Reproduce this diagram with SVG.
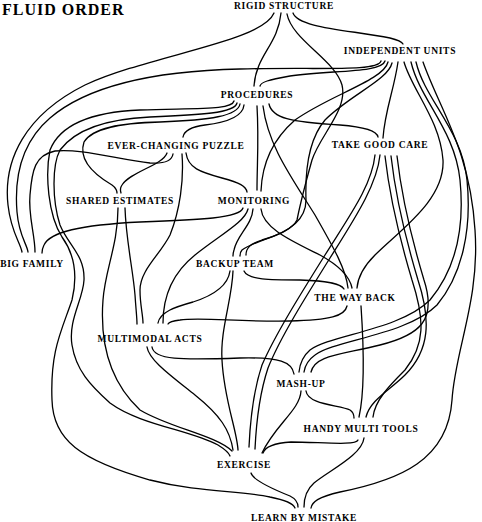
<svg xmlns="http://www.w3.org/2000/svg" width="482" height="522" viewBox="0 0 482 522">
<style>
.e path{fill:none;stroke:#000;stroke-width:1.3;stroke-linecap:round}
text{font-family:"Liberation Serif","DejaVu Serif",serif;font-weight:bold;font-size:9.5px;letter-spacing:0.7px;text-anchor:middle;fill:#000}
.title{font-size:16px;letter-spacing:1px;text-anchor:start}
</style>
<rect width="482" height="522" fill="#fff"/>
<g class="e" id="edges">
<path d="M274,13 C262,42 150,55 85,85 C25,115 3,160 8,205 C11,232 20,242 22,252"/>
<path d="M381,61 C378,72 320,67 240,69 C150,71 85,88 50,118 C22,142 14,175 17,212 C19,236 27,244 28,252"/>
<path d="M281,13 C278,45 256,55 254,86"/>
<path d="M385,61 C382,73 330,70 290,76 C268,80 261,82 260,86"/>
<path d="M293,13 C298,28 350,30 390,38 C398,40 402,42 403,44"/>
<path d="M234,101 C232,110 200,108 140,110 C90,112 60,125 50,150 C45,175 48,215 62,237 C75,255 78,275 72,300 C62,330 50,350 52,400 C53,440 80,460 150,480 C200,493 240,490 270,497 C285,500 293,503 295,508"/>
<path d="M237,103 C235,113 200,115 150,117 C105,119 75,130 60,150 C52,165 52,200 60,225 C68,245 85,255 84,280 C83,300 68,320 72,345 C76,370 90,385 110,403 C140,425 190,430 218,445 C226,450 229,453 230,456"/>
<path d="M240,104 C238,116 210,120 160,122 C120,123 92,128 84,142 C78,160 95,175 112,185 C116,188 117,190 117,193"/>
<path d="M244,105 C243,115 230,122 205,125 C190,127 184,131 183,137"/>
<path d="M257,106 C259,140 257,165 257,190"/>
<path d="M263,106 C268,145 290,175 315,215 C335,250 346,270 348,288"/>
<path d="M269,104 C272,118 290,122 340,125 C365,127 377,131 378,137"/>
<path d="M167,153 C163,165 130,172 122,185 C120,188 120,190 121,193"/>
<path d="M35,252 C35,235 28,215 30,195 C32,170 35,155 55,151 C80,148 120,160 150,163 C165,164 172,160 173,154"/>
<path d="M182,154 C184,180 180,210 170,235 C160,255 140,270 140,290 C140,305 143,315 143,323"/>
<path d="M186,153 C188,168 200,172 222,178 C240,183 246,186 247,192"/>
<path d="M125,208 C126,240 133,270 135,295 C136,310 137,318 137,324"/>
<path d="M118,208 C118,245 105,270 103,300 C100,340 108,380 140,410 C170,428 215,435 232,451"/>
<path d="M243,208 C240,218 200,220 140,222 C80,225 50,232 44,245 C42,249 42,251 42,253"/>
<path d="M248,209 C245,222 220,235 195,255 C170,275 163,300 163,323"/>
<path d="M253,209 C252,225 237,235 234,250 C233,253 233,254 233,256"/>
<path d="M261,209 C263,228 290,240 320,255 C340,266 350,278 352,288"/>
<path d="M388,62 C384,80 330,95 295,120 C272,140 262,165 261,191"/>
<path d="M392,63 C388,80 350,95 325,120 C308,140 305,170 306,200 C306,225 280,235 262,240 C250,244 246,248 246,255"/>
<path d="M287,14 C292,40 335,60 342,85 C348,110 320,135 312,160 C305,185 300,205 297,220 C290,235 255,240 242,250 C240,252 240,254 240,256"/>
<path d="M230,271 C228,285 215,295 193,302 C175,307 160,312 158,323"/>
<path d="M233,271 C232,300 220,330 222,360 C224,400 237,430 238,450"/>
<path d="M244,271 C248,280 270,280 300,280 C330,281 341,284 344,289"/>
<path d="M347,306 C345,316 330,320 290,321 C240,322 200,317 180,320 C172,321 169,322 168,324"/>
<path d="M361,306 C364,350 364,395 359,417"/>
<path d="M147,347 C149,360 170,375 195,395 C220,415 230,430 233,450"/>
<path d="M152,347 C154,360 180,360 240,358 C280,357 292,362 294,374"/>
<path d="M301,391 C300,410 275,425 262,453"/>
<path d="M306,391 C308,405 340,405 350,410 C353,412 354,414 354,418"/>
<path d="M358,440 C356,446 320,442 291,442 C275,443 265,447 263,453"/>
<path d="M364,438 C362,455 330,470 314,483 C306,490 304,500 304,507"/>
<path d="M251,473 C253,480 270,488 290,496 C296,499 298,503 298,507"/>
<path d="M375,155 C372,185 350,215 325,255 C300,295 275,335 262,365 C252,395 250,425 249,447"/>
<path d="M380,155 C377,185 355,218 330,258 C305,298 280,338 268,368 C258,398 256,428 255,449"/>
<path d="M385,156 C390,200 400,240 412,280 C425,320 425,345 405,370 C390,385 375,400 373,417"/>
<path d="M391,156 C396,200 406,240 418,280 C431,320 430,350 405,375 C390,390 370,400 366,417"/>
<path d="M397,156 C402,200 412,240 424,280 C437,320 420,335 380,345 C340,355 315,355 311,372"/>
<path d="M398,62 C394,90 385,110 383,138"/>
<path d="M404,62 C412,90 440,120 443,160 C445,200 400,230 375,255 C365,265 358,275 357,288"/>
<path d="M411,62 C420,100 455,130 460,180 C465,230 455,270 430,300 C400,330 330,335 310,350 C303,356 300,362 299,372"/>
<path d="M416,62 C425,100 462,130 467,180 C472,230 462,275 437,305 C407,335 335,340 315,355 C308,360 305,365 304,372"/>
<path d="M423,62 C440,110 470,150 475,230 C480,300 455,350 452,400 C448,460 400,480 340,492 C318,497 312,502 311,508"/>
</g>
<text class="title" x="2" y="15">FLUID ORDER</text>
<g id="rigid-structure"><text x="284" y="8.5">RIGID STRUCTURE</text></g>
<g id="independent-units"><text x="400" y="53.5">INDEPENDENT UNITS</text></g>
<g id="procedures"><text x="257" y="97.5">PROCEDURES</text></g>
<g id="ever-changing-puzzle"><text x="176" y="148.5">EVER-CHANGING PUZZLE</text></g>
<g id="take-good-care"><text x="380" y="147.5">TAKE GOOD CARE</text></g>
<g id="shared-estimates"><text x="120" y="203.5">SHARED ESTIMATES</text></g>
<g id="monitoring"><text x="254" y="203.5">MONITORING</text></g>
<g id="big-family"><text x="32" y="266.5">BIG FAMILY</text></g>
<g id="backup-team"><text x="235" y="266.5">BACKUP TEAM</text></g>
<g id="the-way-back"><text x="355" y="300.5">THE WAY BACK</text></g>
<g id="multimodal-acts"><text x="150" y="341.5">MULTIMODAL ACTS</text></g>
<g id="mash-up"><text x="301" y="386.5">MASH-UP</text></g>
<g id="handy-multi-tools"><text x="361" y="431.5">HANDY MULTI TOOLS</text></g>
<g id="exercise"><text x="244" y="467.5">EXERCISE</text></g>
<g id="learn-by-mistake"><text x="304" y="521">LEARN BY MISTAKE</text></g>
</svg>
